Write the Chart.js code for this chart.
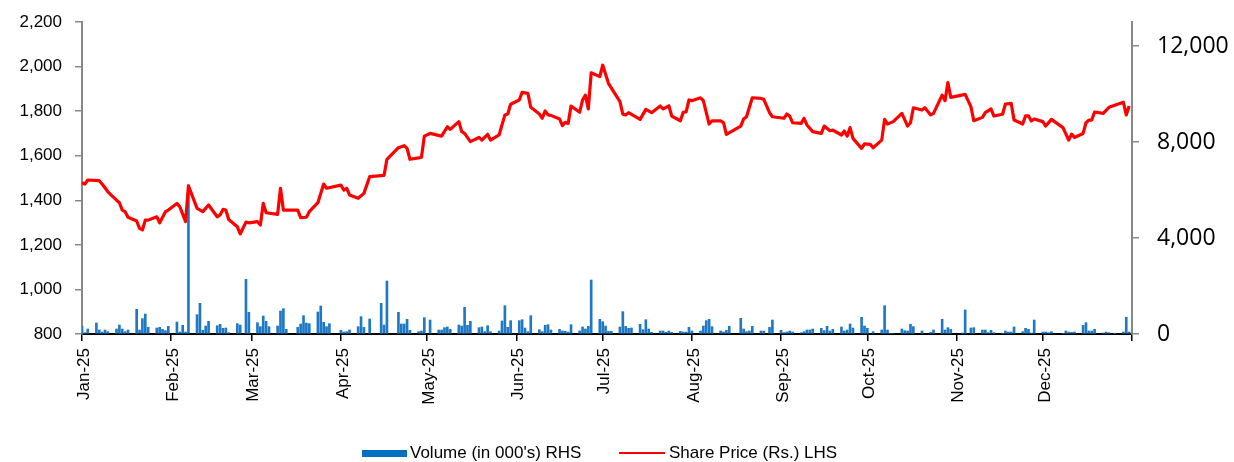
<!DOCTYPE html>
<html>
<head>
<meta charset="utf-8">
<script src="https://cdn.jsdelivr.net/npm/chart.js@4.4.1/dist/chart.umd.min.js"></script>
<style>
  html, body { margin: 0; padding: 0; background: #fff; }
  #wrap { position: relative; width: 1234px; height: 462px; }
  #legend { position: absolute; left: 0; top: 0; width: 1234px; height: 462px; pointer-events: none;
            font-family: "Liberation Sans", Arial, sans-serif; font-size: 17px; color: #000; }
  .sw { position: absolute; }
  .lt { position: absolute; top: 443px; line-height: 20px; white-space: nowrap; }
</style>
</head>
<body>
<div id="wrap">
  <canvas id="c" width="1234" height="462"></canvas>
  <div id="legend">
    <div class="sw" style="left:362px; top:450px; width:45px; height:7px; background:#0070C0;"></div>
    <div class="lt" style="left:410px;">Volume (in 000's) RHS</div>
    <div class="sw" style="left:619px; top:452px; width:46px; height:2px; background:#FF0000;"></div>
    <div class="lt" style="left:669px;">Share Price (Rs.) LHS</div>
  </div>
</div>
<script>
// Day of year in 2025 (0 = 1 Jan 2025) for each trading-day reading
const monthLabels = ["Jan-25","Feb-25","Mar-25","Apr-25","May-25","Jun-25","Jul-25","Aug-25","Sep-25","Oct-25","Nov-25","Dec-25"];
const monthStartDays = [0,31,59,90,120,151,181,212,243,273,304,334,365];

const priceDays = [0,1,2,6,7,9,12,13,14,15,16,19,20,21,22,23,26,27,29,30,33,34,36,37,40,42,44,47,48,49,50,51,54,55,57,58,61,62,63,64,68,69,70,75,76,78,79,82,84,85,90,91,92,93,96,98,100,105,106,110,112,113,114,117,118,119,121,125,127,128,131,132,133,135,138,139,141,142,145,147,148,149,152,153,155,156,159,160,161,162,163,166,167,168,169,170,173,174,175,176,177,180,181,183,187,188,189,190,194,196,198,201,202,204,205,208,209,210,211,212,215,216,218,219,222,223,224,229,230,231,233,236,237,239,240,244,245,246,247,250,251,252,254,257,258,260,261,264,265,266,267,268,271,272,274,275,278,279,280,282,285,287,288,289,292,293,295,296,299,300,301,302,307,309,310,313,314,316,317,320,321,323,324,327,328,329,330,331,334,335,337,341,343,344,345,348,349,350,351,352,355,357,362,363,364];
const priceValues = [1479,1473,1491,1488,1473,1438,1401,1389,1356,1349,1324,1307,1274,1267,1311,1311,1326,1299,1349,1356,1386,1371,1304,1465,1364,1349,1379,1326,1334,1359,1356,1314,1281,1249,1302,1299,1304,1289,1386,1344,1337,1454,1356,1356,1322,1324,1349,1389,1473,1454,1468,1446,1454,1424,1409,1431,1506,1512,1584,1636,1645,1633,1584,1590,1593,1688,1700,1688,1730,1718,1753,1708,1700,1663,1682,1670,1696,1670,1693,1783,1787,1831,1850,1884,1880,1817,1787,1768,1801,1783,1781,1765,1735,1750,1745,1823,1795,1850,1872,1810,1972,1955,2007,1925,1843,1786,1783,1793,1763,1808,1793,1823,1810,1824,1778,1757,1795,1797,1850,1847,1860,1847,1742,1757,1756,1748,1696,1733,1765,1775,1860,1857,1853,1793,1775,1768,1787,1778,1748,1745,1768,1738,1708,1700,1733,1712,1715,1693,1711,1688,1726,1678,1633,1653,1651,1636,1670,1763,1742,1753,1790,1733,1748,1815,1805,1815,1783,1790,1872,1847,1928,1862,1875,1820,1757,1772,1793,1810,1778,1786,1832,1835,1760,1742,1779,1779,1756,1765,1753,1733,1763,1726,1670,1697,1682,1700,1748,1760,1760,1796,1790,1817,1840,1783,1823];

const volumeDays = [0,1,2,5,6,7,8,9,12,13,14,15,16,19,20,21,22,23,26,27,28,29,30,33,34,35,36,37,40,41,42,43,44,47,48,49,50,51,54,55,57,58,61,62,63,64,65,68,69,70,71,75,76,77,78,79,82,83,84,85,86,90,91,92,93,96,97,98,100,104,105,106,110,111,112,113,114,117,118,119,121,124,125,126,127,128,131,132,133,134,135,138,139,140,141,142,145,146,147,148,149,152,153,154,155,156,159,160,161,162,163,166,167,168,169,170,173,174,175,176,177,180,181,182,183,184,187,188,189,190,191,194,195,196,197,198,201,202,203,204,205,208,209,210,211,212,215,216,217,218,219,222,223,224,225,229,230,231,232,233,236,237,239,240,243,244,245,246,247,250,251,252,253,254,257,258,259,260,261,264,265,266,267,268,271,272,273,275,278,279,280,281,282,285,286,287,288,289,292,295,296,299,300,301,302,306,307,309,310,313,314,315,316,317,320,321,322,323,324,327,328,329,330,331,334,335,336,337,341,342,343,344,345,348,349,350,351,352,355,356,357,359,362,363,364];
const volumeValues = [333,56,208,458,167,83,167,97,208,375,208,97,167,1028,167,639,833,278,250,278,194,139,319,500,83,361,83,6208,806,1278,153,333,528,347,403,236,250,56,431,375,2278,903,472,306,750,528,306,333,958,1056,194,278,417,764,458,431,917,1167,486,306,431,153,83,97,167,306,722,278,625,1278,375,2208,903,417,417,611,153,97,125,681,583,167,167,264,292,194,375,333,1111,361,528,264,292,97,347,97,125,542,1181,278,556,556,597,250,97,764,181,97,361,389,167,194,125,111,83,389,125,292,208,319,2250,611,514,333,111,111,292,931,319,236,250,403,181,597,208,69,125,125,69,125,69,111,83,83,278,125,125,333,556,611,306,125,83,153,319,653,208,97,125,319,125,125,278,583,153,56,83,125,83,56,97,167,167,208,236,139,319,125,194,292,125,167,417,250,694,333,236,97,167,1181,167,28,28,208,139,125,403,306,125,69,167,611,167,264,194,42,1000,250,264,167,167,56,153,56,28,125,83,83,292,97,236,194,42,583,83,83,56,97,28,125,83,69,83,361,472,125,125,194,42,83,56,28,83,694,83];

const leftTicks = [800,1000,1200,1400,1600,1800,2000,2200];
const rightTicks = [0,4000,8000,12000];

const pricePoints = priceDays.map((d, i) => ({ x: d, y: priceValues[i] }));
const volumePoints = volumeDays.map((d, i) => ({ x: d, y: volumeValues[i] }));

const AR = '"Liberation Sans", Arial, sans-serif';
const fmt = v => Number(v).toLocaleString('en-US');

new Chart(document.getElementById('c'), {
  type: 'bar',
  data: {
    datasets: [
      {
        type: 'line',
        label: 'Share Price (Rs.) LHS',
        data: pricePoints,
        yAxisID: 'y',
        xAxisID: 'x',
        borderColor: '#FF0000',
        backgroundColor: '#FF0000',
        borderWidth: 3.2,
        pointRadius: 0,
        tension: 0,
        borderJoinStyle: 'round',
        order: 0,
        clip: false
      },
      {
        type: 'bar',
        label: "Volume (in 000's) RHS",
        data: volumePoints,
        yAxisID: 'yVol',
        xAxisID: 'x',
        backgroundColor: '#1F78C4',
        barThickness: 2,
        grouped: false,
        order: 1
      }
    ]
  },
  options: {
    responsive: false,
    animation: false,
    events: [],
    layout: { padding: { top: 22, left: 0, right: 0, bottom: 0 } },
    plugins: { legend: { display: false }, tooltip: { enabled: false } },
    scales: {
      x: {
        type: 'linear',
        position: 'bottom',
        min: 0,
        max: 365,
        offset: false,
        afterBuildTicks: s => { s.ticks = monthStartDays.map(v => ({ value: v })); },
        afterFit: s => { s.height = 128; s.paddingLeft = 0; s.paddingRight = 0; },
        ticks: {
          autoSkip: false,
          maxRotation: 90,
          minRotation: 90,
          padding: 7,
          labelOffset: 2,
          color: '#000',
          font: { family: AR, size: 17 },
          callback: (v, i) => monthLabels[i] || ''
        },
        grid: { drawOnChartArea: false, drawTicks: true, tickLength: 7, color: '#000', lineWidth: 1.5, offset: false },
        border: { display: true, color: '#000', width: 2 }
      },
      y: {
        type: 'linear',
        position: 'left',
        min: 800,
        max: 2200,
        afterBuildTicks: s => { s.ticks = leftTicks.map(v => ({ value: v })); },
        afterFit: s => { s.width = 82; s.paddingTop = 0; s.paddingBottom = 0; },
        ticks: { padding: 13, color: '#000', font: { family: AR, size: 17 }, callback: v => fmt(v) },
        grid: { drawOnChartArea: false, drawTicks: true, tickLength: 7, color: '#888888', lineWidth: 1.5 },
        border: { display: true, color: '#888888', width: 2 }
      },
      yVol: {
        type: 'linear',
        position: 'right',
        min: 0,
        max: 13000,
        afterBuildTicks: s => { s.ticks = rightTicks.map(v => ({ value: v })); },
        afterFit: s => { s.width = 102; s.paddingTop = 0; s.paddingBottom = 0; },
        ticks: { padding: 18, color: '#000', font: { family: '"Open Sans", sans-serif', size: 23 }, callback: v => fmt(v) },
        grid: { drawOnChartArea: false, drawTicks: true, tickLength: 7, color: '#888888', lineWidth: 1.5 },
        border: { display: true, color: '#888888', width: 2 }
      }
    }
  }
});
</script>
</body>
</html>
